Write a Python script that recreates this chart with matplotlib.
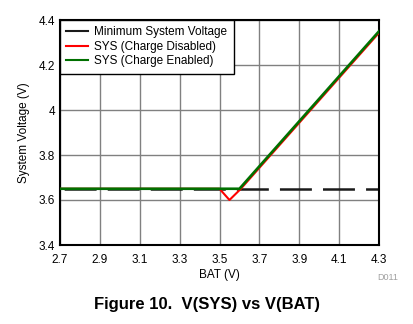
import matplotlib
matplotlib.use("Agg")
import matplotlib.pyplot as plt
from matplotlib.lines import Line2D

plt.rcParams['font.family'] = ['Liberation Sans', 'DejaVu Sans']
plt.rcParams['lines.scale_dashes'] = False

bat_min = [2.7, 4.3]
sys_min = [3.65, 3.65]
bat_dis = [2.7, 3.5, 3.55, 3.605, 4.3]
sys_dis = [3.65, 3.65, 3.6, 3.648, 4.343]
bat_en = [2.7, 3.6, 4.3]
sys_en = [3.65, 3.65, 4.35]
xticks = [2.7, 2.9, 3.1, 3.3, 3.5, 3.7, 3.9, 4.1, 4.3]
yticks = [3.4, 3.6, 3.8, 4.0, 4.2, 4.4]
yticklabels = ['3.4', '3.6', '3.8', '4', '4.2', '4.4']
labels = ['Minimum System Voltage', 'SYS (Charge Disabled)', 'SYS (Charge Enabled)']
colors = ['#1a1a1a', '#ff0000', '#007000']

fig = plt.figure(figsize=(4.13, 3.24), dpi=100)
ax = fig.add_axes([60/413, 1-245/324, 319/413, 225/324])

ax.plot(bat_min, sys_min, color=colors[0], lw=1.8, linestyle=(28, (23, 8)), zorder=2)
ax.plot(bat_dis, sys_dis, color=colors[1], lw=1.5, zorder=3)
ax.plot(bat_en, sys_en, color=colors[2], lw=1.9, zorder=4)

ax.set_xlim(2.7, 4.3)
ax.set_ylim(3.4, 4.4)
ax.set_xticks(xticks)
ax.set_yticks(yticks)
ax.set_yticklabels(yticklabels)
ax.tick_params(axis='x', length=0, labelsize=8.5, pad=6.5)
ax.tick_params(axis='y', length=0, labelsize=8.5, pad=3.5)
ax.grid(True, color='#808080', lw=1.0)
ax.set_axisbelow(True)
for s in ax.spines.values():
    s.set_linewidth(1.5)
ax.set_xlabel('BAT (V)', fontsize=8.5, labelpad=2)
ax.set_ylabel('System Voltage (V)', fontsize=8.5, labelpad=6)

handles = [Line2D([], [], color=c, lw=1.5) for c in colors]
leg = ax.legend(handles, labels, loc='upper left', fontsize=8.5, frameon=True, fancybox=False,
                edgecolor='black', framealpha=1, borderaxespad=0,
                handlelength=1.85, handletextpad=0.5, labelspacing=0.2,
                borderpad=0.55)
leg.get_frame().set_linewidth(1.0)

fig.text(377/413, 1-278/324, 'D011', fontsize=6.5, color='#a0a0a0', ha='left', va='center')
fig.text(207.5/413, 1-304/324, 'Figure 10.  V(SYS) vs V(BAT)', fontsize=12, fontweight='bold', ha='center', va='center')

fig.savefig('out.png', dpi=100)
